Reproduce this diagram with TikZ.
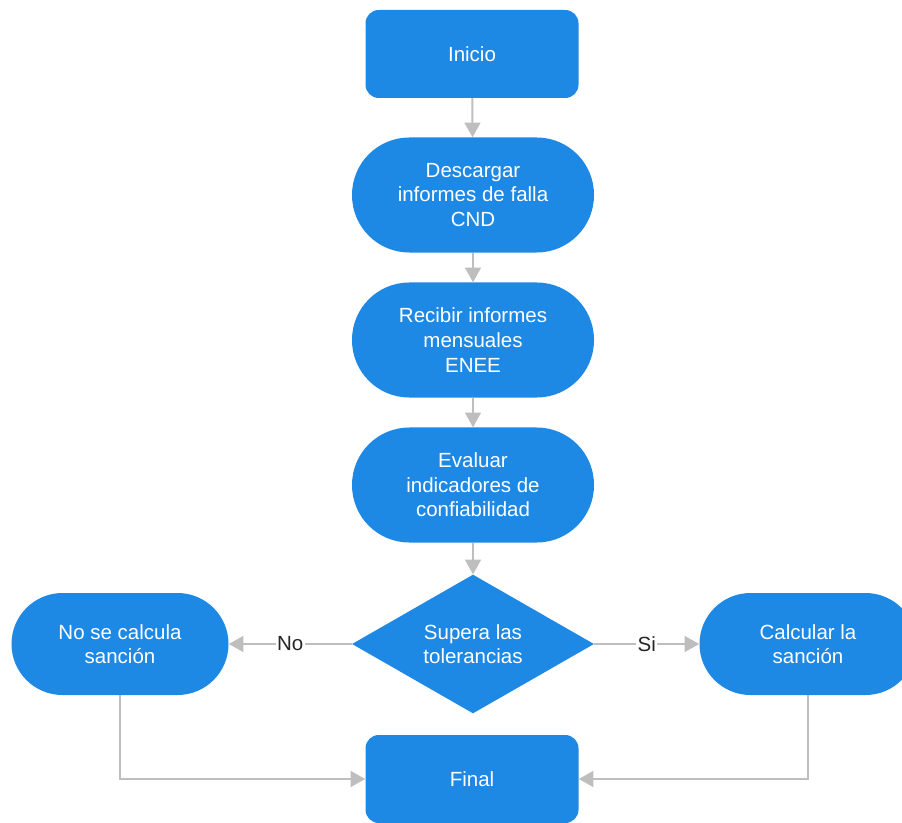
\documentclass[tikz,border=0pt]{standalone}
\usepackage{fontspec}
\setmainfont{Liberation Sans}
\usetikzlibrary{arrows.meta,positioning,shapes.geometric}
\definecolor{flujo}{RGB}{30,136,229}
\definecolor{gris}{RGB}{190,190,190}
\tikzset{caja/.style={draw=none, fill=flujo, text=white, align=center, font=\fontsize{17.5}{21}\selectfont, inner sep=0pt}}
\tikzset{terminal/.style={caja, rectangle, rounded corners=0.4cm, minimum width=6.39cm, minimum height=2.64cm}}
\tikzset{proceso/.style={caja, rectangle, rounded corners=1.72cm, minimum width=7.26cm, minimum height=3.45cm}}
\tikzset{lado/.style={caja, rectangle, rounded corners=1.53cm, minimum width=6.51cm, minimum height=3.06cm}}
\tikzset{decision/.style={caja, diamond, minimum width=7.26cm, minimum height=3.96cm}}
\tikzset{arr/.style={draw=gris, line width=1.7pt, -{Triangle[length=12.5pt, width=13.5pt]}}}
\tikzset{etq/.style={fill=white, text=black!85, inner sep=1pt, font=\fontsize{17.5}{21}\selectfont}}

\begin{document}
\begin{tikzpicture}[x=0.03cm, y=-0.03cm]
			\useasboundingbox (0,0) rectangle (902,823);
			\node[terminal] (ini) at (472,54) {Inicio};
			\node[proceso] (desc) at (473,195) {Descargar\\informes de falla\\CND};
			\node[proceso] (rec) at (473,340) {Recibir informes\\mensuales\\ENEE};
			\node[proceso] (eval) at (473,485) {Evaluar\\indicadores de\\confiabilidad};
			\node[decision] (sup) at (473,644) {Supera las\\tolerancias};
			\node[lado] (nocalc) at (120,644) {No se calcula\\sanción};
			\node[lado] (calc) at (808,644) {Calcular la\\sanción};
			\node[terminal] (fin) at (472,779) {Final};
			
			\coordinate (esqA) at (nocalc.south |- fin.west);
			\coordinate (esqB) at (calc.south |- fin.east);
			
			\draw[arr] (ini) -- (desc);
			\draw[arr] (desc) -- (rec);
			\draw[arr] (rec) -- (eval);
			\draw[arr] (eval) -- (sup);
			\draw[arr] (sup) -- node[etq]{No} (nocalc);
			\draw[arr] (sup) -- node[etq]{Si} (calc);
			\draw[arr] (nocalc) -- (esqA) -- (fin);
			\draw[arr] (calc) -- (esqB) -- (fin);
		\end{tikzpicture}
\end{document}
